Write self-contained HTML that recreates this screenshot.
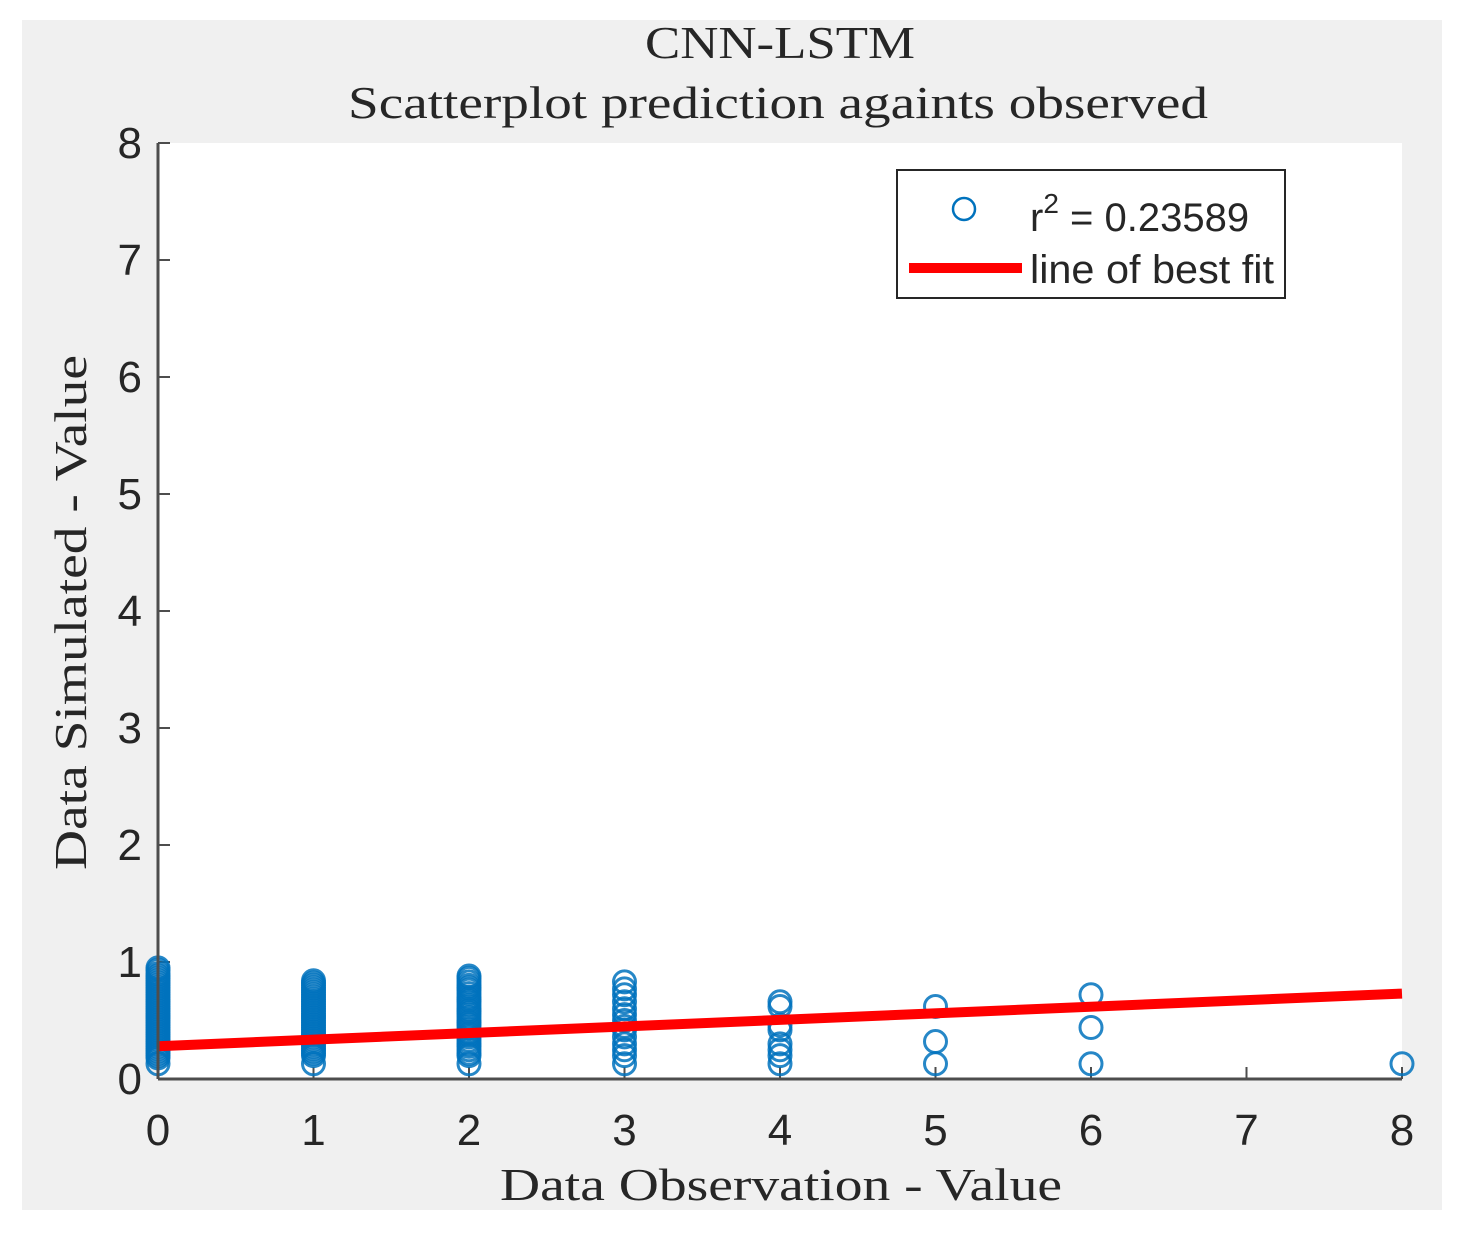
<!DOCTYPE html>
<html><head><meta charset="utf-8"><style>
html,body{margin:0;padding:0;background:#fff;}
svg{display:block;}
</style></head><body>
<svg id="chart" width="1464" height="1235" xmlns="http://www.w3.org/2000/svg">
<rect x="0" y="0" width="1464" height="1235" fill="#fff"/>
<rect x="22" y="20" width="1420" height="1190" fill="#f0f0f0"/>
<rect x="158" y="143" width="1244" height="936" fill="#fff"/>
<text x="645" y="58" textLength="270" lengthAdjust="spacingAndGlyphs" font-family="Liberation Serif, serif" font-size="46" fill="#262626">CNN-LSTM</text>
<text x="348" y="118" textLength="860" lengthAdjust="spacingAndGlyphs" font-family="Liberation Serif, serif" font-size="46" fill="#262626">Scatterplot prediction againts observed</text>
<g id="ticks"></g>
<g id="points"></g>
<g id="fit"></g>
<line x1="158" y1="143" x2="158" y2="1079" stroke="#4d4d4d" stroke-width="3"/>
<line x1="158" y1="1079" x2="1402" y2="1079" stroke="#4d4d4d" stroke-width="3"/>
<text x="500" y="1200" textLength="562" lengthAdjust="spacingAndGlyphs" font-family="Liberation Serif, serif" font-size="46" fill="#262626">Data Observation - Value</text>
<text transform="translate(86,870) rotate(-90)" textLength="515" lengthAdjust="spacingAndGlyphs" font-family="Liberation Serif, serif" font-size="46" fill="#262626">Data Simulated - Value</text>
<g>
<rect x="897" y="170" width="388" height="128" fill="#fff" stroke="#262626" stroke-width="2"/>
<circle cx="964" cy="209" r="11" fill="none" stroke="#0072bd" stroke-width="2.5"/>
<text x="1030" y="231" font-family="Liberation Sans, sans-serif" font-size="40" fill="#262626">r<tspan dy="-18" font-size="28">2</tspan><tspan dy="18"> = 0.23589</tspan></text>
<line x1="909" y1="268" x2="1022" y2="268" stroke="#ff0000" stroke-width="10"/>
<text x="1030" y="283" textLength="244" lengthAdjust="spacingAndGlyphs" font-family="Liberation Sans, sans-serif" font-size="40" fill="#262626">line of best fit</text>
</g>
</svg>
<script>
const xTicks = [0,1,2,3,4,5,6,7,8];
const yTicks = [0,1,2,3,4,5,6,7,8];
const ptsX0 = [0.13,0.18,0.2,0.22,0.24,0.26,0.28,0.3,0.32,0.34,0.36,0.38,0.4,0.42,0.44,0.46,0.48,0.5,0.52,0.54,0.56,0.58,0.6,0.62,0.64,0.66,0.68,0.7,0.72,0.74,0.76,0.78,0.8,0.82,0.84,0.86,0.88,0.9,0.93,0.95];
const ptsX1 = [0.13,0.2,0.22,0.24,0.26,0.28,0.3,0.32,0.34,0.36,0.38,0.4,0.42,0.44,0.46,0.48,0.5,0.52,0.54,0.56,0.58,0.6,0.62,0.64,0.66,0.68,0.7,0.72,0.74,0.76,0.78,0.8,0.82,0.84];
const ptsX2 = [0.13,0.2,0.22,0.25,0.28,0.3,0.33,0.36,0.38,0.4,0.43,0.46,0.48,0.5,0.53,0.56,0.58,0.6,0.63,0.66,0.68,0.7,0.73,0.76,0.78,0.8,0.83,0.86,0.88];
const ptsX3 = [0.13,0.2,0.25,0.3,0.36,0.42,0.45,0.5,0.55,0.6,0.66,0.72,0.77,0.83];
const ptsX4 = [0.13,0.2,0.25,0.3,0.42,0.46,0.62,0.66];
const ptsX5 = [0.13,0.32,0.62];
const ptsX6 = [0.13,0.44,0.72];
const ptsX8 = [0.13];
const groupX = [0,1,2,3,4,5,6,8];
const groupVals = [ptsX0,ptsX1,ptsX2,ptsX3,ptsX4,ptsX5,ptsX6,ptsX8];
const fitX = [0,8];
const fitY = [0.28,0.73];
const NS='http://www.w3.org/2000/svg';
const sx = v => 158 + v*(1402-158)/8;
const sy = v => 1079 - v*(1079-143)/8;
const tg=document.getElementById('ticks');
function mk(tag,attrs,parent){const e=document.createElementNS(NS,tag);for(const k in attrs)e.setAttribute(k,attrs[k]);parent.appendChild(e);return e;}
xTicks.forEach(t=>{
  const l=mk('line',{x1:sx(t),x2:sx(t),y1:1079,y2:1067,stroke:'#4d4d4d','stroke-width':2},tg);
  
  
  const tx=mk('text',{x:sx(t),y:1145,'font-family':'Liberation Sans, sans-serif','font-size':44,'text-anchor':'middle',fill:'#262626'},tg);
  tx.textContent=t;
  
  
});
yTicks.forEach(t=>{
  const l=mk('line',{x1:158,x2:170,y1:sy(t),y2:sy(t),stroke:'#4d4d4d','stroke-width':2},tg);
  
  
  const tx=mk('text',{x:142,y:sy(t)+15,'font-family':'Liberation Sans, sans-serif','font-size':44,'text-anchor':'end',fill:'#262626'},tg);
  tx.textContent=t;
  
  
});
const pg=document.getElementById('points');
groupX.forEach((gx,i)=>{
  groupVals[i].forEach(v=>{
    const c=mk('circle',{cx:sx(gx),cy:sy(v),r:11,fill:'none',stroke:'#0072bd','stroke-width':3,'stroke-opacity':0.85},pg);
    
    
  });
});
const fg=document.getElementById('fit');
const fl=mk('line',{x1:sx(fitX[0]),y1:sy(fitY[0]),x2:sx(fitX[1]),y2:sy(fitY[1]),stroke:'#ff0000','stroke-width':10},fg);


</script>
</body></html>
